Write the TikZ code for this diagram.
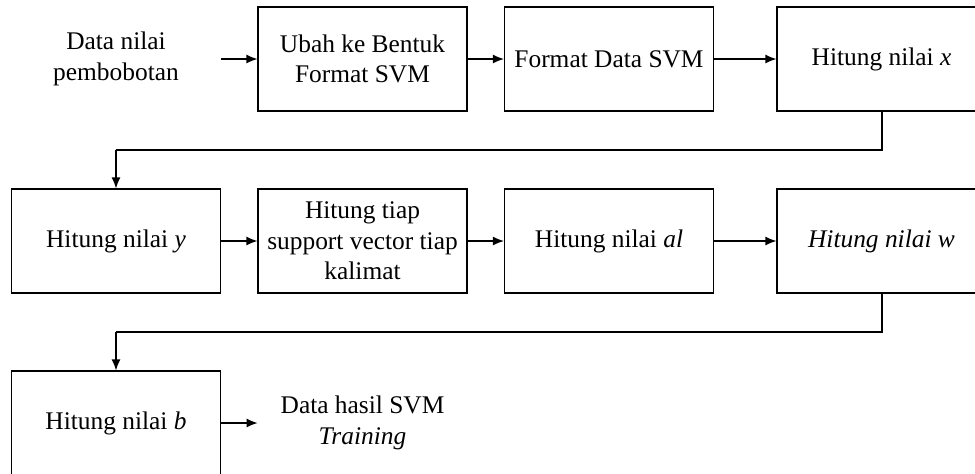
\documentclass[tikz,border=0pt]{standalone}
\usepackage{fontspec}
\setmainfont{Liberation Serif}
\usetikzlibrary{arrows.meta}
\begin{document}
\begin{tikzpicture}[x=0.5pt,y=-0.5pt,
  every node/.style={font=\fontsize{12.7}{15.3}\selectfont, align=center, inner sep=0pt},
  box/.style={draw, line width=0.6pt, minimum width=104.5pt, minimum height=52pt},
  label/.style={minimum width=104.5pt, minimum height=52pt},
  arr/.style={line width=0.6pt, -{Latex[length=5.5pt,width=4.5pt]}},
  link/.style={line width=0.6pt}]
\useasboundingbox (0,0) rectangle (975,473);
\clip (0,0) rectangle (975,473);

% row 1
\node[label] (din) at (116,59) {Data nilai\\pembobotan};
\node[box] (ubah) at (362.5,59) {Ubah ke Bentuk\\Format SVM};
\node[box] (fmt) at (609,59) {Format Data SVM};
\node[box] (hx) at (881.5,59) {Hitung nilai \textit{x}};

% row 2
\node[box] (hy) at (116,241) {Hitung nilai \textit{y}};
\node[box] (sv) at (362.5,241) {Hitung tiap\\support vector tiap\\kalimat};
\node[box] (hal) at (609,241) {Hitung nilai \textit{al}};
\node[box] (hw) at (881.5,241) {\textit{Hitung nilai w}};

% row 3
\node[box] (hb) at (116,423) {Hitung nilai \textit{b}};
\node[label] (out) at (362.5,423) {Data hasil SVM\\\textit{Training}};

% turning points of the return lines
\coordinate (r1a) at (882,150);
\coordinate (r1b) at (116,150);
\coordinate (r2a) at (882,332);
\coordinate (r2b) at (116,332);

% connectors
\draw[arr] (din.east) -- (ubah.west);
\draw[arr] (ubah.east) -- (fmt.west);
\draw[arr] (fmt.east) -- (hx.west);
\draw[link] (hx.south -| r1a) -- (r1a) -- (r1b);
\draw[arr] (r1b) -- (hy.north);
\draw[arr] (hy.east) -- (sv.west);
\draw[arr] (sv.east) -- (hal.west);
\draw[arr] (hal.east) -- (hw.west);
\draw[link] (hw.south -| r2a) -- (r2a) -- (r2b);
\draw[arr] (r2b) -- (hb.north);
\draw[arr] (hb.east) -- (out.west);
\end{tikzpicture}
\end{document}
